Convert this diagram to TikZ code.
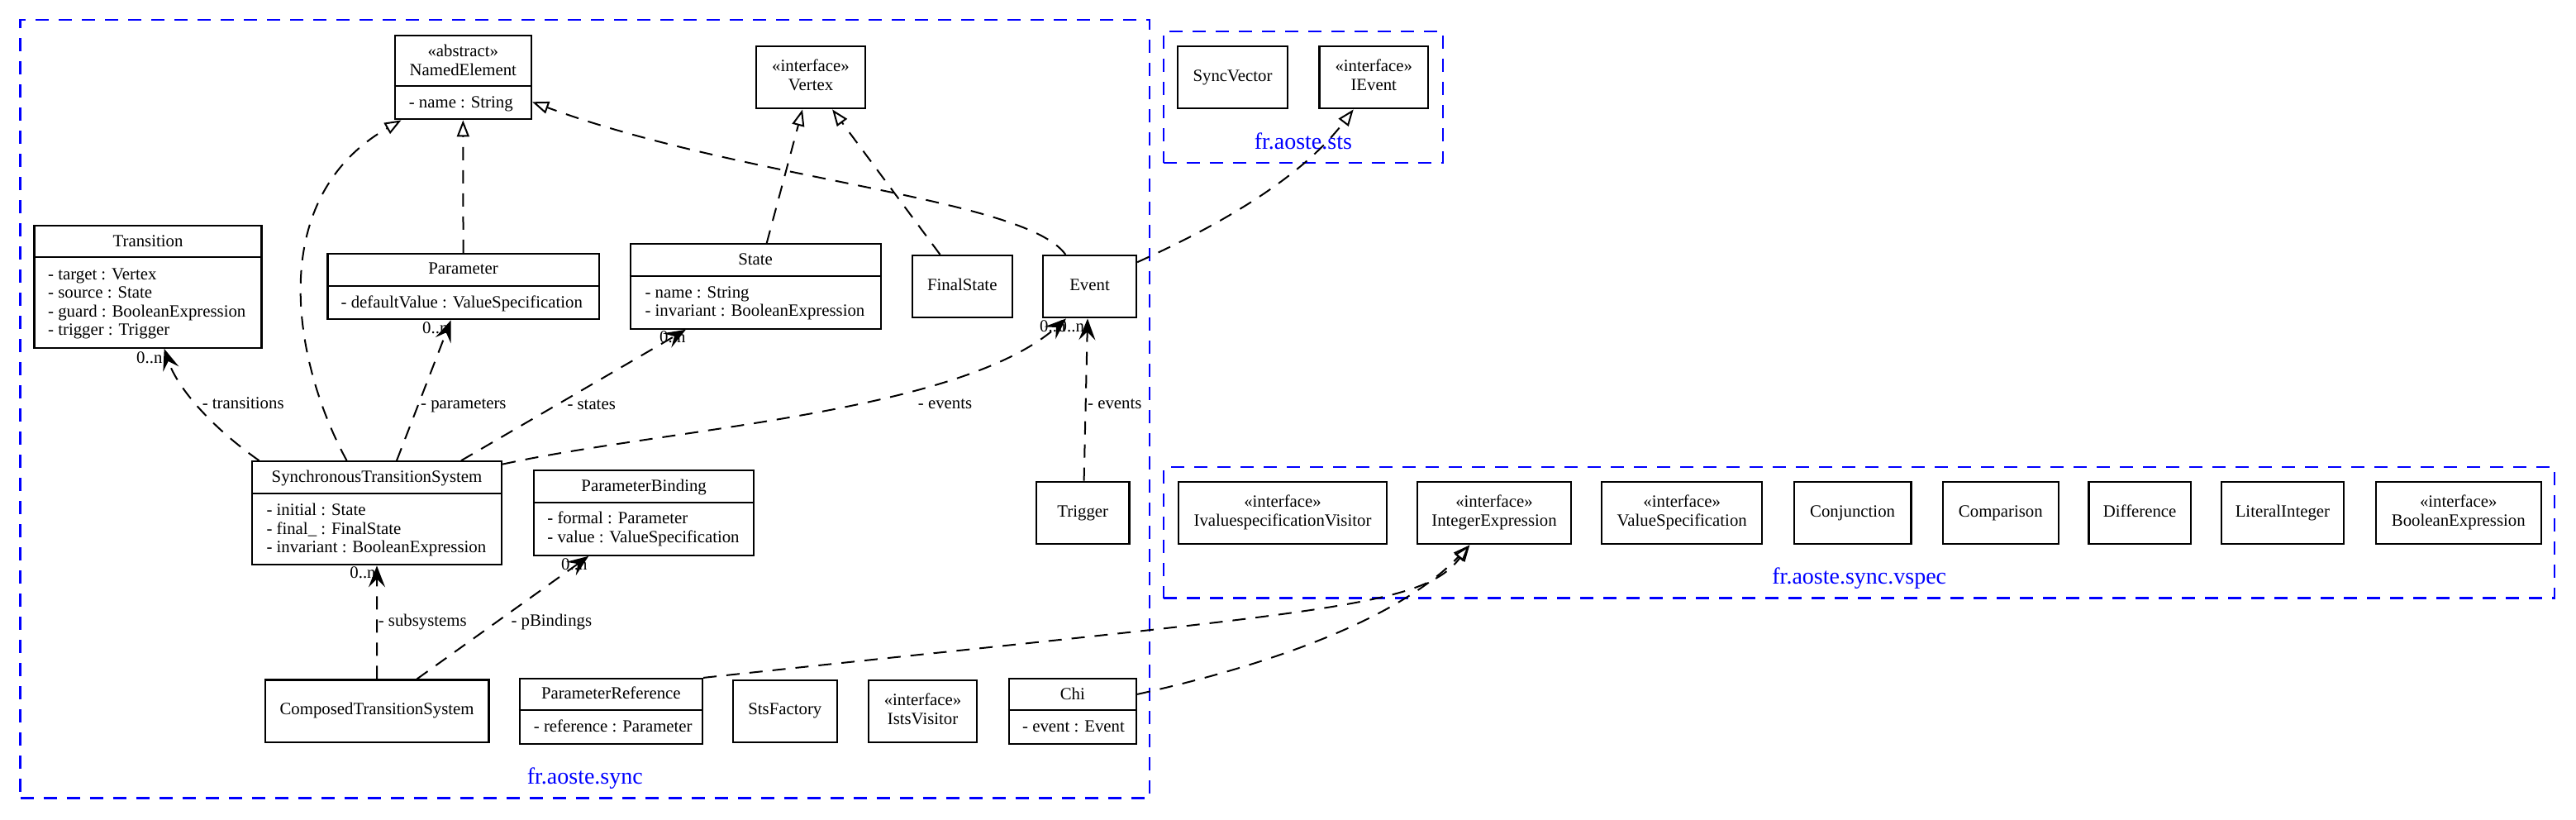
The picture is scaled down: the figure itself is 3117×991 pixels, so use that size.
\documentclass[tikz,border=0pt]{standalone}
\usepackage{fontspec}
\setmainfont{Liberation Serif}
\usetikzlibrary{arrows.meta,calc}
\definecolor{pkgblue}{RGB}{0,0,255}
\newcommand\clsfont{\fontsize{20.8}{22.6}\selectfont}
\newcommand\pkgfont{\fontsize{28}{30}\selectfont}
\begin{document}
\begin{tikzpicture}[x=1pt,y=-1pt,
  box/.style={draw=black, line width=2.2pt, inner sep=0pt, align=center, font=\clsfont},
  txt/.style={inner sep=0pt, font=\clsfont, align=left},
  divider/.style={line width=2.2pt},
  pkg/.style={draw=pkgblue, line width=2.3pt, dash pattern=on 16pt off 12pt, inner sep=0pt},
  pkglabel/.style={text=pkgblue, font=\pkgfont, inner sep=0pt, anchor=base},
  conn/.style={line width=2pt, dash pattern=on 16pt off 12pt},
  real/.style={conn, -{Triangle[open, length=20pt, width=15pt, line width=2pt]}},
  assoc/.style={conn, -{Stealth[length=26pt, width=20pt, inset=10pt]}}
]
\useasboundingbox (0,0) rectangle (3117,991);

% packages
\node[pkg, minimum width=1366.4pt, minimum height=941.2pt] (syncpkg) at (707.8,494.9) {};
\node[pkg, minimum width=338.3pt, minimum height=158.4pt] (stspkg) at (1576.85,117.5) {};
\node[pkg, minimum width=1683.1pt, minimum height=158.2pt] (vspecpkg) at (2249.75,644.4) {};
\node[pkglabel] (syncname) at ($(syncpkg.south)+(0,-17.7)$) {fr.aoste.sync};
\node[pkglabel] (stsname) at ($(stspkg.south)+(0,-17.7)$) {fr.aoste.sts};
\node[pkglabel] (vspecname) at ($(vspecpkg.south)+(0,-17.7)$) {fr.aoste.sync.vspec};

% classes with attributes
\node[box, minimum width=165.2pt, minimum height=101.6pt] (ne) at (560.3,93.5) {};
\draw[divider] ($(ne.north west)+(0,62.6)$) -- ($(ne.north east)+(0,62.6)$);
\node[txt, align=center] (netitle) at (560.3,75.3) {\strut«abstract»\\\strut NamedElement};
\node[txt, anchor=west] (neattr) at (494.6,126) {\strut- name : String};

\node[box, minimum width=275pt, minimum height=148pt] (trans) at (179,346.7) {};
\draw[divider] ($(trans.north west)+(0,39.6)$) -- ($(trans.north east)+(0,39.6)$);
\node[txt] (transtitle) at (179,293.7) {\strut Transition};
\node[txt, anchor=west] (transattr) at (58,367.5) {\strut- target : Vertex\\\strut- source : State\\\strut- guard : BooleanExpression\\\strut- trigger : Trigger};

\node[box, minimum width=328.3pt, minimum height=79.3pt] (param) at (560.55,346.65) {};
\draw[divider] ($(param.north west)+(0,39.7)$) -- ($(param.north east)+(0,39.7)$);
\node[txt] (paramtitle) at (560.55,327) {\strut Parameter};
\node[txt, anchor=west] (paramattr) at (412.5,368) {\strut- defaultValue : ValueSpecification};

\node[box, minimum width=303pt, minimum height=102.4pt] (state) at (914.1,346.5) {};
\draw[divider] ($(state.north west)+(0,40)$) -- ($(state.north east)+(0,40)$);
\node[txt] (statetitle) at (914.1,316.3) {\strut State};
\node[txt, anchor=west] (stateattr) at (780.4,367) {\strut- name : String\\\strut- invariant : BooleanExpression};

\node[box, minimum width=302.2pt, minimum height=125pt] (sts) at (456,620.8) {};
\draw[divider] ($(sts.north west)+(0,39.4)$) -- ($(sts.north east)+(0,39.4)$);
\node[txt] (ststitle) at (456,578.7) {\strut SynchronousTransitionSystem};
\node[txt, anchor=west] (stsattr) at (322.3,641.6) {\strut- initial : State\\\strut- final\_ : FinalState\\\strut- invariant : BooleanExpression};

\node[box, minimum width=266.3pt, minimum height=102.4pt] (pb) at (779.15,620.5) {};
\draw[divider] ($(pb.north west)+(0,40)$) -- ($(pb.north east)+(0,40)$);
\node[txt] (pbtitle) at (779.15,590.3) {\strut ParameterBinding};
\node[txt, anchor=west] (pbattr) at (662.2,640.7) {\strut- formal : Parameter\\\strut- value : ValueSpecification};

\node[box, minimum width=221.4pt, minimum height=79pt] (pr) at (739.3,860.5) {};
\draw[divider] ($(pr.north west)+(0,39.3)$) -- ($(pr.north east)+(0,39.3)$);
\node[txt] (prtitle) at (739.3,841.3) {\strut ParameterReference};
\node[txt, anchor=west] (prattr) at (645.7,881) {\strut- reference : Parameter};

\node[box, minimum width=154.4pt, minimum height=79pt] (chi) at (1297.8,860.5) {};
\draw[divider] ($(chi.north west)+(0,39.3)$) -- ($(chi.north east)+(0,39.3)$);
\node[txt] (chititle) at (1297.8,842) {\strut Chi};
\node[txt, anchor=west] (chiattr) at (1237,881) {\strut- event : Event};

% simple classes
\node[box, minimum width=131.7pt, minimum height=75.3pt] (vertex) at (981,93.65) {\strut«interface»\\\strut Vertex};
\node[box, minimum width=121.4pt, minimum height=75.3pt] (fs) at (1164.3,346.65) {\strut FinalState};
\node[box, minimum width=113pt, minimum height=75.3pt] (event) at (1318.5,346.65) {\strut Event};
\node[box, minimum width=112.5pt, minimum height=75.6pt] (trigger) at (1310.25,620.5) {\strut Trigger};
\node[box, minimum width=270.9pt, minimum height=75.2pt] (cts) at (456.05,860.1) {\strut ComposedTransitionSystem};
\node[box, minimum width=125.7pt, minimum height=75pt] (factory) at (949.85,860.2) {\strut StsFactory};
\node[box, minimum width=131.5pt, minimum height=75pt] (visitor) at (1116.55,860.2) {\strut«interface»\\\strut IstsVisitor};
\node[box, minimum width=133.6pt, minimum height=75.3pt] (syncvec) at (1491.5,93.65) {\strut SyncVector};
\node[box, minimum width=131.7pt, minimum height=75.3pt] (ievent) at (1662.25,93.65) {\strut«interface»\\\strut IEvent};
\node[box, minimum width=252.4pt, minimum height=75.6pt] (ivsv) at (1552,620.5) {\strut«interface»\\\strut IvaluespecificationVisitor};
\node[box, minimum width=185.6pt, minimum height=75.6pt] (ie) at (1808,620.5) {\strut«interface»\\\strut IntegerExpression};
\node[box, minimum width=194.2pt, minimum height=75.6pt] (vs) at (2035.2,620.5) {\strut«interface»\\\strut ValueSpecification};
\node[box, minimum width=141.8pt, minimum height=75.6pt] (conj) at (2241.6,620.5) {\strut Conjunction};
\node[box, minimum width=140.4pt, minimum height=75.6pt] (comp) at (2420.8,620.5) {\strut Comparison};
\node[box, minimum width=123.3pt, minimum height=75.6pt] (diff) at (2589.15,620.5) {\strut Difference};
\node[box, minimum width=148.2pt, minimum height=75.6pt] (litint) at (2761.9,620.5) {\strut LiteralInteger};
\node[box, minimum width=200.1pt, minimum height=75.6pt] (boolexp) at (2974.75,620.5) {\strut«interface»\\\strut BooleanExpression};

% realizations / generalizations
\draw[real] ($(sts.north)+(-36.4,0)$) .. controls +(-64.6,-118.3) and +(-166.6,95.7) .. ($(ne.south west)+(8.9,0)$);
\draw[real] (param.north) -- (ne.south);
\draw[real] ($(event.north)+(-29.2,0)$) .. controls +(-49.3,-69) and +(257.1,94.7) .. ($(ne.east)+(0,29.8)$);
\draw[real] ($(state.north)+(13.6,0)$) -- ($(vertex.south)+(-10,0)$);
\draw[real] ($(fs.north)+(-26.8,0)$) -- ($(vertex.south)+(26.1,0)$);
\draw[real] ($(event.north east)+(0,9.3)$) .. controls +(85,-38.3) and +(-67.7,88.7) .. ($(ievent.south)+(-24.55,0)$);
\draw[real] (pr.north east) .. controls +(750,-81) and +(-58.3,76.7) .. ($(ie.south)+(-29.7,0)$);
\draw[real] ($(chi.north east)+(0,20)$) .. controls +(185,-41) and +(-78.3,81.7) .. ($(ie.south)+(-29.7,0)$);

% associations
\draw[assoc] ($(sts.north west)+(9.8,0)$) .. controls +(-54.7,-38.3) and +(16.3,49.3) .. ($(trans.south)+(19.7,0)$);
\draw[assoc] ($(sts.north)+(24,0)$) -- ($(param.south)+(-14.95,0)$);
\draw[assoc] ($(sts.north)+(102,0)$) -- ($(state.south)+(-84.3,0)$);
\draw[assoc] ($(sts.north east)+(0,4.4)$) .. controls +(192.9,-42.7) and +(-130,115.7) .. ($(event.south)+(-28.5,0)$);
\draw[assoc] ($(trigger.north)+(1.35,0)$) -- ($(event.south)+(-2.5,0)$);
\draw[assoc] (cts.north) -- (sts.south);
\draw[assoc] ($(cts.north)+(48.45,0)$) -- ($(pb.south)+(-66.95,0)$);

% association labels
\node[txt, anchor=west] (ltrans) at (244.6,490.3) {\strut- transitions};
\node[txt, anchor=west] (lparams) at (509,490.3) {\strut- parameters};
\node[txt, anchor=west] (lstates) at (686.3,491) {\strut- states};
\node[txt, anchor=west] (levents) at (1110.7,490.3) {\strut- events};
\node[txt, anchor=west] (levents2) at (1316,490.3) {\strut- events};
\node[txt, anchor=west] (lsubs) at (457.6,752.7) {\strut- subsystems};
\node[txt, anchor=west] (lpb) at (618.3,752.7) {\strut- pBindings};

% multiplicities
\node[txt, anchor=west] (m1) at (165,434.7) {\strut 0..n};
\node[txt, anchor=west] (m2) at (511,398.7) {\strut 0..n};
\node[txt, anchor=west] (m3) at (798,410.3) {\strut 0..n};
\node[txt, anchor=west] (m4) at (423.2,695.3) {\strut 0..n};
\node[txt, anchor=west] (m5) at (679,684.7) {\strut 0..n};
\node[txt, anchor=west] (m6) at (1258,397) {\strut 0..n};
\node[txt, anchor=west] (m7) at (1280.5,397) {\strut 0..n};
\end{tikzpicture}
\end{document}
